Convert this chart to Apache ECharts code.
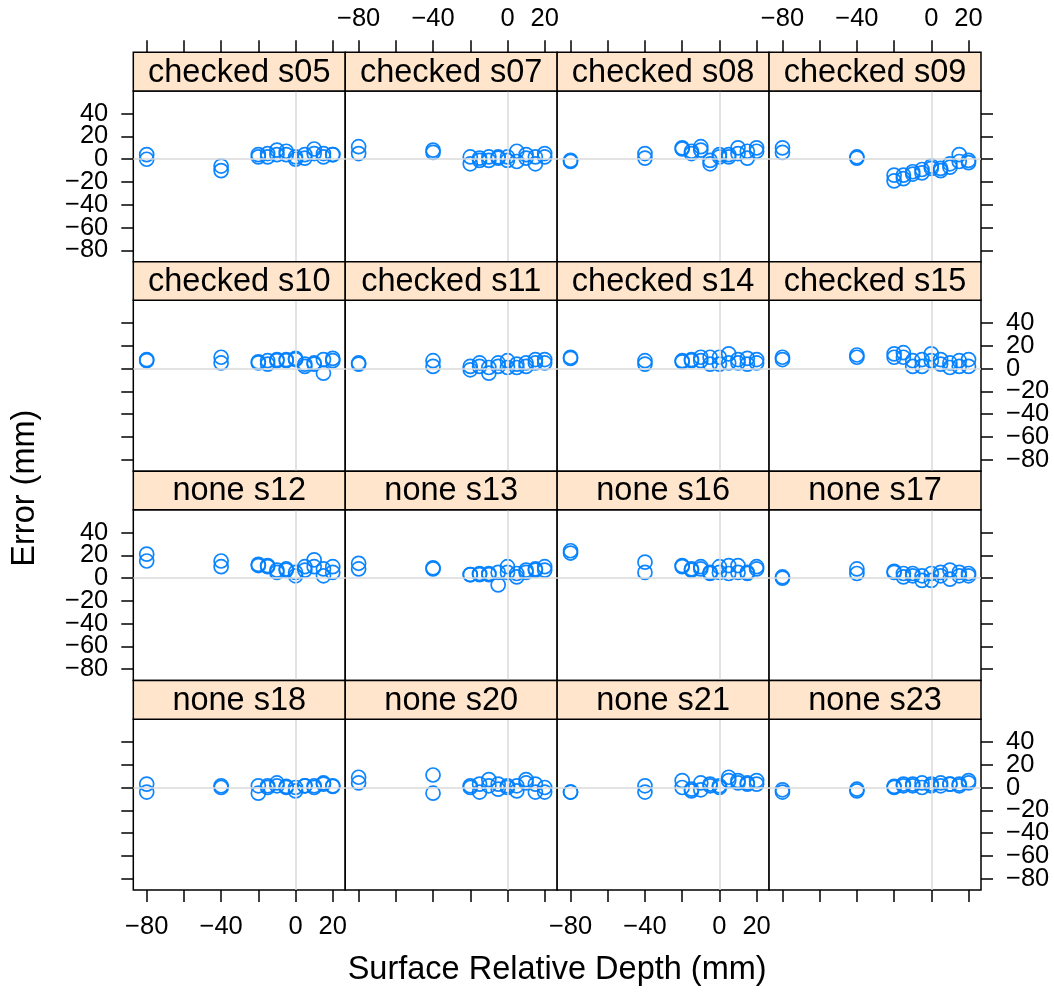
<!DOCTYPE html>
<html>
<head>
<meta charset="utf-8">
<script src="https://cdn.jsdelivr.net/npm/echarts@6/dist/echarts.min.js"></script>
<style>
  html, body { margin: 0; padding: 0; background: #fff; }
  #chart { width: 1054px; height: 994px; }
</style>
</head>
<body>
<div id="chart"></div>
<script>
// Surface relative depth of each measurement (two replicates per depth)
const depth = [-80, -80, -40, -40, -20, -20, -15, -15, -10, -10, -5, -5,
               0, 0, 5, 5, 10, 10, 15, 15, 20, 20];

// Panel titles, row by row
const panelLabels = [
  'checked s05', 'checked s07', 'checked s08', 'checked s09',
  'checked s10', 'checked s11', 'checked s14', 'checked s15',
  'none s12', 'none s13', 'none s16', 'none s17',
  'none s18', 'none s20', 'none s21', 'none s23'
];

// Error (mm) per subject, aligned with depth
const err_checked_s05 = [4, 0, -6, -10, 4, 2, 2, 5, 8, 4, 7, 4, 2, 0, 1, 4, 9, 5, 2, 5, 4, 4];
const err_checked_s07 = [11, 5, 8, 6, 2, -4, 1, -1, 2, -1, 1, 2, -1, 2, 7, -2, 4, 1, 2, -4, 5, 2];
const err_checked_s08 = [-2, -1, 5, 1, 10, 9, 7, 5, 11, 8, -1, -4, 4, 2, 4, 2, 10, 5, 7, 1, 10, 7];
const err_checked_s09 = [10, 6, 2, 1, -14, -19, -14, -17, -11, -13, -9, -12, -6, -8, -8, -10, -4, -7, 4, -2, -3, -1];
const err_checked_s10 = [8, 7, 10, 5, 5, 6, 7, 4, 8, 7, 8, 7, 9, 8, 4, 2, 5, 4, 8, -4, 9, 7];
const err_checked_s11 = [5, 4, 7, 2, 2, -1, 5, 2, 1, -4, 5, 2, 7, 1, 4, 1, 5, 2, 8, 5, 8, 5];
const err_checked_s14 = [10, 9, 7, 4, 7, 6, 7, 8, 10, 7, 10, 4, 10, 4, 13, 5, 8, 5, 9, 4, 8, 5];
const err_checked_s15 = [10, 8, 12, 10, 13, 10, 14, 10, 7, 2, 8, 2, 13, 7, 8, 4, 5, 1, 7, 2, 8, 2];
const err_none_s12 = [21, 15, 15, 10, 12, 11, 11, 10, 7, 5, 8, 7, 5, 2, 10, 7, 16, 10, 8, 2, 10, 5];
const err_none_s13 = [13, 8, 9, 8, 3, 3, 4, 3, 4, 3, 5, -6, 10, 5, 1, 4, 7, 5, 8, 7, 10, 7];
const err_none_s16 = [24, 22, 14, 5, 11, 10, 7, 8, 10, 8, 4, 5, 10, 5, 11, 4, 11, 5, 4, 5, 10, 8];
const err_none_s17 = [1, 0, 8, 4, 6, 5, 4, 1, 4, 2, 2, -2, 4, -2, 5, 2, 7, -1, 5, 2, 4, 2];
const err_none_s18 = [3, -4, 1.5, 0, 1.5, -5, 0, 1.5, 4, 1.5, 1, 0, 0, -3, 1.5, 1.5, 1.5, 0, 4, 3, 1.5, 1];
const err_none_s20 = [9, 4, 11, -5, 1.5, 0, 3, -4, 7, 1.5, 3, -1.5, 1.5, 0, 1.5, -3, 7, 4, 3, -4, 0, -4];
const err_none_s21 = [-4, -4, 1.5, -4, 6, 0, -1.5, -3, 4, -2, 3, 1.5, 1.5, 0, 9, 6, 6, 4, 4, 3, 6, 3];
const err_none_s23 = [-2, -4, -1.5, -3, 1, 0, 3, 1.5, 3, 1.5, 4, 0, 3, 1.5, 4, 1.5, 3, 3, 3, 1.5, 6, 4];

const panelErrors = [
  err_checked_s05, err_checked_s07, err_checked_s08, err_checked_s09,
  err_checked_s10, err_checked_s11, err_checked_s14, err_checked_s15,
  err_none_s12, err_none_s13, err_none_s16, err_none_s17,
  err_none_s18, err_none_s20, err_none_s21, err_none_s23
];

// Tick positions
const xTicks = [-80, -60, -40, -20, 0, 20];
const xTickLabels = [-80, -40, 0, 20];
const yTicks = [-80, -60, -40, -20, 0, 20, 40];

// Layout of the 4x4 trellis
const FONT = "'Liberation Sans', Arial, Helvetica, sans-serif";
const L = 133.3, R = 981, T = 52.3, B = 890;
const NC = 4, NR = 4;
const colW = (R - L) / NC, rowH = (B - T) / NR;
const stripH = 38.6;
const TICK_FS = 25.5, STRIP_FS = 32.5, TITLE_FS = 32.5;
const POINT_COLOR = '#0080ff';
const X_RANGE = [-87.2, 26.7], Y_RANGE = [-90, 60];

const fmt = v => (v < 0 ? '\u2212' + Math.abs(v) : String(v));

const grids = [], xAxes = [], yAxes = [], extraYAxes = [], series = [], graphics = [];

// The y labels are split over two coincident axes (alternate values each),
// so the tightly packed labels are never dropped as overlapping.
const yLabelsA = yTicks.filter((v, k) => k % 2 === 0);
const yLabelsB = yTicks.filter((v, k) => k % 2 === 1);

function yAxisFor(i, col, showTicks, showLabels, labels) {
  return {
    gridIndex: i, type: 'value', min: Y_RANGE[0], max: Y_RANGE[1],
    position: col === 0 ? 'left' : 'right', offset: 0,
    axisLine: { show: false, onZero: false },
    splitLine: { show: false },
    axisTick: { show: showTicks, length: 12, inside: false, customValues: yTicks,
                lineStyle: { color: '#000', width: 1.5 } },
    axisLabel: { show: showLabels, customValues: labels, formatter: fmt,
                 showMinLabel: true, showMaxLabel: true, hideOverlap: false,
                 fontSize: TICK_FS, fontFamily: FONT, color: '#000', margin: 25,
                 align: col === 0 ? 'right' : 'left' }
  };
}

panelLabels.forEach((label, i) => {
  const row = Math.floor(i / NC), col = i % NC;
  const left = L + col * colW;
  const stripTop = T + row * rowH;
  const top = stripTop + stripH;
  const h = rowH - stripH;

  grids.push({
    left: left, top: top, width: colW, height: h,
    show: true, backgroundColor: '#fff', borderColor: '#000', borderWidth: 1.5, z: 0
  });

  const xOuter = row === 0 || row === NR - 1;
  const xLab = (row === 0 && col % 2 === 1) || (row === NR - 1 && col % 2 === 0);
  xAxes.push({
    gridIndex: i, type: 'value', min: X_RANGE[0], max: X_RANGE[1],
    position: row === 0 ? 'top' : 'bottom',
    offset: row === 0 ? stripH : 0,
    axisLine: { show: false, onZero: false },
    splitLine: { show: false },
    axisTick: { show: xOuter, length: 12, inside: false, customValues: xTicks,
                lineStyle: { color: '#000', width: 1.5 } },
    axisLabel: { show: xLab, customValues: xTickLabels, formatter: fmt,
                 showMinLabel: true, showMaxLabel: true, hideOverlap: false,
                 fontSize: TICK_FS, fontFamily: FONT, color: '#000',
                 margin: row === 0 ? 20 : 24 }
  });

  const yOuter = col === 0 || col === NC - 1;
  const yLab = (col === 0 && row % 2 === 0) || (col === NC - 1 && row % 2 === 1);
  yAxes.push(yAxisFor(i, col, yOuter, yLab, yLabelsA));
  if (yLab) extraYAxes.push(yAxisFor(i, col, false, true, yLabelsB));

  // Reference lines at zero depth and zero error
  series.push({
    type: 'line', xAxisIndex: i, yAxisIndex: i, data: [], z: 1,
    silent: true,
    markLine: {
      silent: true, symbol: ['none', 'none'], animation: false,
      label: { show: false },
      lineStyle: { color: '#dadada', width: 1.5, type: 'solid' },
      data: [{ xAxis: 0 }, { yAxis: 0 }]
    }
  });

  series.push({
    type: 'scatter', xAxisIndex: i, yAxisIndex: i, z: 3,
    symbol: 'circle', symbolSize: 14,
    itemStyle: { color: 'rgba(0,0,0,0)', borderColor: POINT_COLOR, borderWidth: 1.7, opacity: 0.95 },
    data: depth.map((d, k) => [d, panelErrors[i][k]])
  });

  // Strip with the panel label
  graphics.push({
    type: 'rect', z: 10,
    shape: { x: left, y: stripTop, width: colW, height: stripH },
    style: { fill: '#ffe5cc', stroke: '#000', lineWidth: 1.5 }
  });
  graphics.push({
    type: 'text', z: 11,
    x: left + colW / 2, y: stripTop + stripH / 2 + 1,
    style: { text: label, align: 'center', verticalAlign: 'middle',
             fontSize: STRIP_FS, fontFamily: FONT, fill: '#000' }
  });
});

// Axis titles
graphics.push({
  type: 'text', z: 11, x: (L + R) / 2, y: 970,
  style: { text: 'Surface Relative Depth (mm)', align: 'center', verticalAlign: 'middle',
           fontSize: TITLE_FS, fontFamily: FONT, fill: '#000' }
});
graphics.push({
  type: 'text', z: 11, x: 25, y: (T + B) / 2 + 17, rotation: Math.PI / 2,
  style: { text: 'Error (mm)', align: 'center', verticalAlign: 'middle',
           fontSize: TITLE_FS, fontFamily: FONT, fill: '#000' }
});

const chart = echarts.init(document.getElementById('chart'), null, { renderer: 'canvas' });
chart.setOption({
  animation: false,
  backgroundColor: '#fff',
  grid: grids,
  xAxis: xAxes,
  yAxis: yAxes.concat(extraYAxes),
  series: series,
  graphic: graphics
});
</script>
</body>
</html>
